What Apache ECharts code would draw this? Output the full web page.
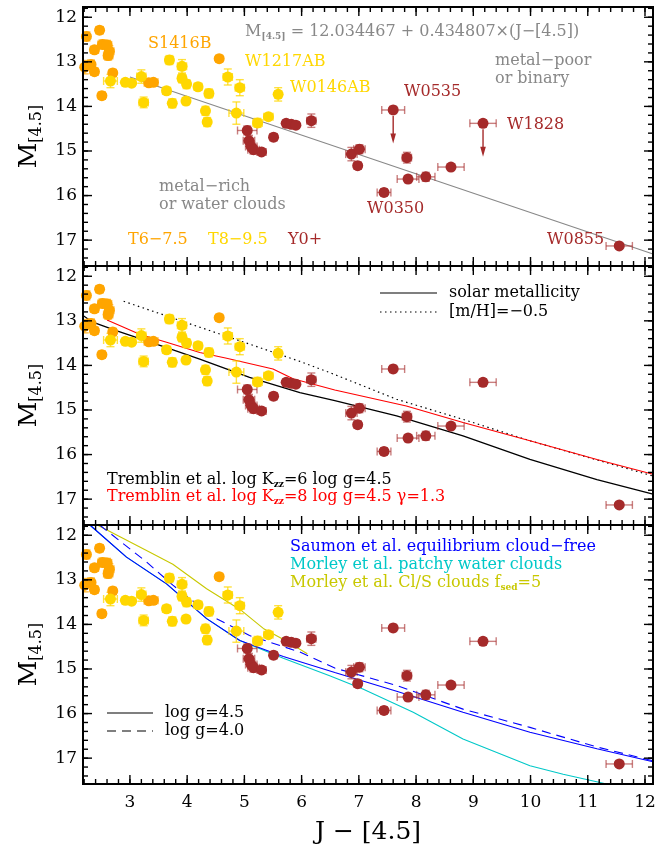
<!DOCTYPE html>
<html>
<head>
<meta charset="utf-8">
<script src="https://cdn.jsdelivr.net/npm/echarts@6/dist/echarts.min.js"></script>
<style>
  html, body { margin: 0; padding: 0; background: #fff; }
  #wrap { position: relative; width: 668px; height: 850px; }
  #chart, #frame { position: absolute; left: 0; top: 0; width: 668px; height: 850px; }
  #frame { pointer-events: none; }
</style>
</head>
<body>
<div id="wrap">
  <div id="chart"></div>
  <div id="frame"></div>
</div>
<script>
// ---- axis ranges and tick labels ----
const xRange = [2.18, 12.14];
const yRange = [11.77, 17.58];
const xTickLabels = [3, 4, 5, 6, 7, 8, 9, 10, 11, 12];
const yTickLabels = [12, 13, 14, 15, 16, 17];

// ---- photometry: [J-[4.5], M_[4.5], x error, y error] ----
const t6to75 = [
  [2.24, 12.43, 0.05, 0.10], [2.47, 12.29, 0.06, 0.08], [2.38, 12.73, 0.07, 0.08],
  [2.52, 12.61, 0.08, 0.10], [2.60, 12.62, 0.08, 0.10], [2.64, 12.76, 0.08, 0.12],
  [2.62, 12.86, 0.08, 0.10], [2.32, 13.06, 0.06, 0.10], [2.38, 13.22, 0.06, 0.08],
  [2.21, 13.12, 0.04, 0.15], [2.70, 13.25, 0.06, 0.08], [2.51, 13.76, 0.06, 0.08],
  [3.33, 13.47, 0.08, 0.06], [3.41, 13.46, 0.08, 0.06], [4.56, 12.93, 0.06, 0.06]
];
const t8to95 = [
  [2.66, 13.43, 0.12, 0.15], [2.92, 13.46, 0.05, 0.06], [3.03, 13.48, 0.05, 0.06],
  [3.20, 13.33, 0.08, 0.15], [3.24, 13.91, 0.08, 0.12], [3.64, 13.65, 0.07, 0.08],
  [3.69, 12.96, 0.07, 0.10], [3.74, 13.93, 0.06, 0.10], [3.91, 13.10, 0.08, 0.15],
  [3.91, 13.37, 0.07, 0.10], [3.99, 13.50, 0.06, 0.10], [3.98, 13.88, 0.06, 0.08],
  [4.19, 13.56, 0.07, 0.08], [4.38, 13.71, 0.07, 0.10], [4.32, 14.10, 0.05, 0.10],
  [4.35, 14.35, 0.05, 0.10], [4.71, 13.34, 0.08, 0.18], [4.92, 13.58, 0.08, 0.18],
  [4.86, 14.15, 0.13, 0.25], [5.23, 14.37, 0.08, 0.10], [5.42, 14.23, 0.08, 0.06],
  [5.59, 13.73, 0.06, 0.15]
];
const y0plus = [
  [5.05, 14.54, 0.17, 0.10], [5.08, 14.77, 0.10, 0.12], [5.12, 14.90, 0.10, 0.10],
  [5.16, 14.97, 0.10, 0.10], [5.30, 15.02, 0.08, 0.07], [5.51, 14.69, 0.06, 0.08],
  [5.73, 14.38, 0.06, 0.06], [5.82, 14.40, 0.06, 0.06], [5.90, 14.42, 0.06, 0.06],
  [6.17, 14.32, 0.08, 0.15], [6.87, 15.07, 0.10, 0.15], [7.01, 14.96, 0.10, 0.10],
  [6.98, 15.33, 0.06, 0.08], [7.60, 14.08, 0.20, 0.08], [7.44, 15.93, 0.12, 0.08],
  [7.84, 15.15, 0.08, 0.12], [7.86, 15.63, 0.19, 0.08], [8.17, 15.58, 0.16, 0.10],
  [8.61, 15.36, 0.23, 0.06], [9.17, 14.38, 0.23, 0.08], [11.55, 17.13, 0.23, 0.05]
];
// upper limits: [x, M, arrow tip M]
const upperLimits = [[7.60, 14.08, 14.83], [9.17, 14.38, 15.13]];

// ---- linear fit M_[4.5] = a + b (J-[4.5]) ----
const fitA = 12.034467;
const fitB = 0.434807;
const fitXStart = 3.0;

// ---- model tracks ----
const tremblinKzz6 = [
  [2.18, 12.88], [2.35, 13.03], [2.76, 13.22], [3.64, 13.60], [4.22, 13.86],
  [5.09, 14.27], [5.97, 14.61], [6.58, 14.79], [7.66, 15.13], [8.82, 15.58],
  [9.99, 16.11], [11.16, 16.56], [12.14, 16.89]
];
const tremblinKzz8 = [
  [2.60, 12.98], [3.17, 13.30], [3.64, 13.48], [4.22, 13.71], [4.69, 13.84],
  [5.50, 14.08], [5.85, 14.30], [6.58, 14.55], [7.83, 14.91], [8.82, 15.28],
  [9.99, 15.69], [11.16, 16.11], [12.14, 16.44]
];
const tremblinLowZ = [
  [2.89, 12.56], [3.64, 12.89], [4.81, 13.40], [5.97, 13.91], [6.49, 14.16],
  [7.66, 14.76], [8.82, 15.21], [9.99, 15.69], [11.16, 16.12], [12.14, 16.48]
];
const saumonG45 = [
  [2.30, 11.77], [2.94, 12.49], [3.64, 13.09], [4.34, 13.87], [4.92, 14.36],
  [5.68, 14.72], [6.58, 15.08], [7.66, 15.50], [8.82, 15.97], [9.99, 16.42],
  [11.16, 16.79], [12.14, 17.08]
];
const saumonG40 = [
  [2.47, 11.77], [3.29, 12.60], [3.75, 13.12], [4.45, 13.83], [5.09, 14.25],
  [5.97, 14.62], [6.58, 14.98], [7.66, 15.37], [8.82, 15.90], [9.99, 16.31],
  [11.16, 16.75], [12.14, 17.06]
];
const morleyWater = [
  [2.30, 11.77], [2.94, 12.49], [3.64, 13.09], [4.34, 13.87], [4.92, 14.36],
  [5.68, 14.76], [6.49, 15.15], [7.07, 15.45], [7.95, 15.97], [8.82, 16.57],
  [9.99, 17.17], [10.57, 17.36], [11.33, 17.58]
];
const morleyClS = [
  [2.43, 11.77], [3.29, 12.34], [3.75, 12.65], [4.34, 13.20], [4.95, 13.69],
  [5.33, 14.09], [5.74, 14.38], [6.10, 14.66]
];

// ---- styling ----
const SERIF = 'DejaVu Serif';
const FONT = '16px "DejaVu Serif"';
const C_T6 = '#FFA500', C_T8 = '#FFD700', C_Y = '#A52A2A';
const E_T6 = 'rgba(255,165,0,0.75)', E_T8 = 'rgba(255,215,0,0.75)', E_Y = 'rgba(165,42,42,0.6)';
const GRID_TOPS = [7, 266, 525];
const GRID_H = 259;

function ticksEvery(lo, hi, step) {
  const out = [];
  for (let v = Math.ceil(lo / step - 1e-9) * step; v <= hi + 1e-9; v += step) out.push(+v.toFixed(2));
  return out;
}
const xMinor = ticksEvery(xRange[0], xRange[1], 0.2);
const yMinor = ticksEvery(yRange[0], yRange[1], 0.2);

// one label-carrying axis pair per panel
const xAxes = GRID_TOPS.map((_, g) => Object.assign({
  type: 'value', gridIndex: g, position: 'bottom', min: xRange[0], max: xRange[1],
  axisLine: { show: false, onZero: false },
  axisTick: { show: false },
  axisLabel: g === 2
    ? { show: true, customValues: xTickLabels, fontFamily: SERIF, fontSize: 17, color: '#000', margin: 10 }
    : { show: false },
  splitLine: { show: false }
}, g === 2 ? {
  name: 'J − [4.5]', nameLocation: 'middle', nameGap: 36,
  nameTextStyle: { fontFamily: SERIF, fontSize: 25, color: '#000' }
} : {}));

const yAxes = GRID_TOPS.map((_, g) => ({
  type: 'value', gridIndex: g, position: 'left', inverse: true, min: yRange[0], max: yRange[1],
  axisLine: { show: false, onZero: false },
  axisTick: { show: false },
  axisLabel: { show: true, customValues: yTickLabels, fontFamily: SERIF, fontSize: 17, color: '#000', margin: 6 },
  splitLine: { show: false },
  name: '{m|M}{s|[4.5]}', nameLocation: 'middle', nameRotate: 90, nameGap: 36,
  nameTextStyle: {
    rich: {
      m: { fontFamily: SERIF, fontSize: 25, color: '#000', lineHeight: 30 },
      s: { fontFamily: SERIF, fontSize: 16, color: '#000', verticalAlign: 'bottom', lineHeight: 14 }
    }
  }
}));

function errorBars(data, color, g) {
  return {
    type: 'custom', xAxisIndex: g, yAxisIndex: g, data: data, z: 2, clip: true,
    encode: { x: 0, y: 1 }, silent: true,
    renderItem: (params, api) => {
      const x = api.value(0), y = api.value(1), ex = api.value(2), ey = api.value(3);
      const c = api.coord([x, y]);
      const l = api.coord([x - ex, y])[0], r = api.coord([x + ex, y])[0];
      const t = api.coord([x, y - ey])[1], b = api.coord([x, y + ey])[1];
      const cap = 4;
      const seg = (x1, y1, x2, y2) => ({ type: 'line', shape: { x1, y1, x2, y2 }, style: { stroke: color, lineWidth: 1.4, fill: null } });
      return {
        type: 'group', children: [
          seg(l, c[1], r, c[1]), seg(l, c[1] - cap, l, c[1] + cap), seg(r, c[1] - cap, r, c[1] + cap),
          seg(c[0], t, c[0], b), seg(c[0] - cap, t, c[0] + cap, t), seg(c[0] - cap, b, c[0] + cap, b)
        ]
      };
    }
  };
}
function dots(data, color, g) {
  return {
    type: 'scatter', xAxisIndex: g, yAxisIndex: g, z: 3,
    data: data.map(d => [d[0], d[1]]), symbolSize: 11,
    itemStyle: { color: color, opacity: 1 }, silent: true
  };
}
function curve(data, color, g, type, width) {
  return {
    type: 'line', xAxisIndex: g, yAxisIndex: g, data: data, showSymbol: false, symbol: 'none',
    lineStyle: { color: color, width: width || 1.1, type: type || 'solid' }, z: 1, clip: true, silent: true
  };
}

const series = [];
// straight fit in the top panel
series.push(curve([fitXStart, xRange[1]].map(x => [x, fitA + fitB * x]), '#888888', 0, 'solid', 1.1));
// model tracks
series.push(curve(tremblinLowZ, '#000', 1, [1.5, 3.5], 1.2));
series.push(curve(tremblinKzz8, '#FF0000', 1));
series.push(curve(tremblinKzz6, '#000', 1, 'solid', 1.3));
series.push(curve(morleyClS, '#C8C800', 2));
series.push(curve(morleyWater, '#00C8C8', 2));
series.push(curve(saumonG40, '#0000FF', 2, [9, 6], 1.1));
series.push(curve(saumonG45, '#0000FF', 2, 'solid', 1.1));

[0, 1, 2].forEach(g => {
  series.push(errorBars(t6to75, E_T6, g));
  series.push(errorBars(t8to95, E_T8, g));
  series.push(errorBars(y0plus, E_Y, g));
  series.push(dots(t6to75, C_T6, g));
  series.push(dots(t8to95, C_T8, g));
  series.push(dots(y0plus, C_Y, g));
});

// downward arrows for the upper limits
series.push({
  type: 'custom', xAxisIndex: 0, yAxisIndex: 0, data: upperLimits, z: 4, silent: true,
  encode: { x: 0, y: 1 },
  renderItem: (params, api) => {
    const p0 = api.coord([api.value(0), api.value(1)]);
    const p1 = api.coord([api.value(0), api.value(2)]);
    return {
      type: 'group', children: [
        { type: 'line', shape: { x1: p0[0], y1: p0[1] + 6, x2: p1[0], y2: p1[1] - 6 }, style: { stroke: C_Y, lineWidth: 1.4 } },
        { type: 'polygon', shape: { points: [[p1[0] - 2.8, p1[1] - 10], [p1[0] + 2.8, p1[1] - 10], [p1[0], p1[1]]] }, style: { fill: C_Y } }
      ]
    };
  }
});

function label(x, y, text, color, extra) {
  return {
    type: 'text', x: x, y: y, z: 100, silent: true,
    style: Object.assign({
      text: text, fill: color, font: FONT,
      textAlign: 'left', textVerticalAlign: 'middle', align: 'left', verticalAlign: 'middle'
    }, extra || {})
  };
}
function sample(x1, x2, y, dash) {
  const style = { stroke: '#000', lineWidth: 1.2 };
  if (dash) style.lineDash = dash;
  return { type: 'line', z: 100, silent: true, shape: { x1: x1, y1: y, x2: x2, y2: y }, style: style };
}
const subRich = (color) => ({
  n: { fontFamily: SERIF, fontSize: 16, color: color, fill: color, lineHeight: 19 },
  s: { fontFamily: SERIF, fontSize: 9, fontWeight: 'bold', color: color, fill: color, verticalAlign: 'bottom', lineHeight: 8 }
});

const graphics = [
  // top panel
  label(245, 32, '{n|M}{s|[4.5]}{n| = 12.034467 + 0.434807×(J−[4.5])}', '#888', { rich: subRich('#888') }),
  label(495, 61, 'metal−poor', '#888'),
  label(495, 79, 'or binary', '#888'),
  label(159, 187, 'metal−rich', '#888'),
  label(159, 205, 'or water clouds', '#888'),
  label(148, 44, 'S1416B', C_T6),
  label(245, 62, 'W1217AB', C_T8),
  label(290, 88, 'W0146AB', C_T8),
  label(404, 92, 'W0535', C_Y),
  label(507, 125, 'W1828', C_Y),
  label(367, 209, 'W0350', C_Y),
  label(547, 240, 'W0855', C_Y),
  label(128, 240, 'T6−7.5', C_T6),
  label(208, 240, 'T8−9.5', C_T8),
  label(288, 240, 'Y0+', C_Y),
  // middle panel
  sample(380, 437, 293),
  label(449, 293, 'solar metallicity', '#000'),
  sample(380, 437, 312, [1.5, 3.5]),
  label(449, 312, '[m/H]=−0.5', '#000'),
  label(107, 480, '{n|Tremblin et al. log K}{s|zz}{n|=6 log g=4.5}', '#000', { rich: subRich('#000') }),
  label(107, 497, '{n|Tremblin et al. log K}{s|zz}{n|=8 log g=4.5 γ=1.3}', '#FF0000', { rich: subRich('#FF0000') }),
  // bottom panel
  label(290, 547, 'Saumon et al. equilibrium cloud−free', '#0000FF'),
  label(290, 565, 'Morley et al. patchy water clouds', '#00C8C8'),
  label(290, 583, '{n|Morley et al. Cl/S clouds f}{s|sed}{n|=5}', '#C8C800', { rich: subRich('#C8C800') }),
  sample(107, 153, 713),
  label(165, 713, 'log g=4.5', '#000'),
  sample(107, 153, 731, [9, 6]),
  label(165, 731, 'log g=4.0', '#000')
];

const gridOpts = () => GRID_TOPS.map(t => ({
  left: 83, right: 15, top: t, height: GRID_H,
  show: true, borderColor: '#000', borderWidth: 2, backgroundColor: 'transparent'
}));

const chart = echarts.init(document.getElementById('chart'), null, { renderer: 'canvas' });
chart.setOption({
  animation: false,
  grid: gridOpts(),
  xAxis: xAxes,
  yAxis: yAxes,
  series: series,
  graphic: { elements: graphics }
});

// frame layer on top: panel borders with inward ticks on all four sides,
// placed through the same panel scales
const frame = echarts.init(document.getElementById('frame'), null, { renderer: 'canvas' });
frame.setOption({
  animation: false,
  grid: gridOpts(),
  xAxis: GRID_TOPS.map((_, g) => ({ type: 'value', gridIndex: g, min: xRange[0], max: xRange[1],
    axisLine: { show: false }, axisTick: { show: false }, axisLabel: { show: false }, splitLine: { show: false } })),
  yAxis: GRID_TOPS.map((_, g) => ({ type: 'value', gridIndex: g, inverse: true, min: yRange[0], max: yRange[1],
    axisLine: { show: false }, axisTick: { show: false }, axisLabel: { show: false }, splitLine: { show: false } })),
  series: []
});
const tickEls = [];
function tickLine(x1, y1, x2, y2) {
  return { type: 'line', silent: true, shape: { x1: x1, y1: y1, x2: x2, y2: y2 },
    style: { stroke: '#000', lineWidth: 1.4 } };
}
GRID_TOPS.forEach((_, g) => {
  const cA = frame.convertToPixel({ gridIndex: g }, [xRange[0], yRange[0]]);
  const cB = frame.convertToPixel({ gridIndex: g }, [xRange[1], yRange[1]]);
  const left = Math.min(cA[0], cB[0]), right = Math.max(cA[0], cB[0]);
  const top = Math.min(cA[1], cB[1]), bottom = Math.max(cA[1], cB[1]);
  const addX = (v, len) => {
    const px = frame.convertToPixel({ gridIndex: g }, [v, yRange[0]])[0];
    tickEls.push(tickLine(px, top, px, top + len));
    tickEls.push(tickLine(px, bottom, px, bottom - len));
  };
  const addY = (v, len) => {
    const py = frame.convertToPixel({ gridIndex: g }, [xRange[0], v])[1];
    tickEls.push(tickLine(left, py, left + len, py));
    tickEls.push(tickLine(right, py, right - len, py));
  };
  xMinor.forEach(v => addX(v, 5));
  xTickLabels.forEach(v => addX(v, 9));
  yMinor.forEach(v => addY(v, 5));
  yTickLabels.forEach(v => addY(v, 9));
});
frame.setOption({ graphic: { elements: tickEls } });
</script>
</body>
</html>
